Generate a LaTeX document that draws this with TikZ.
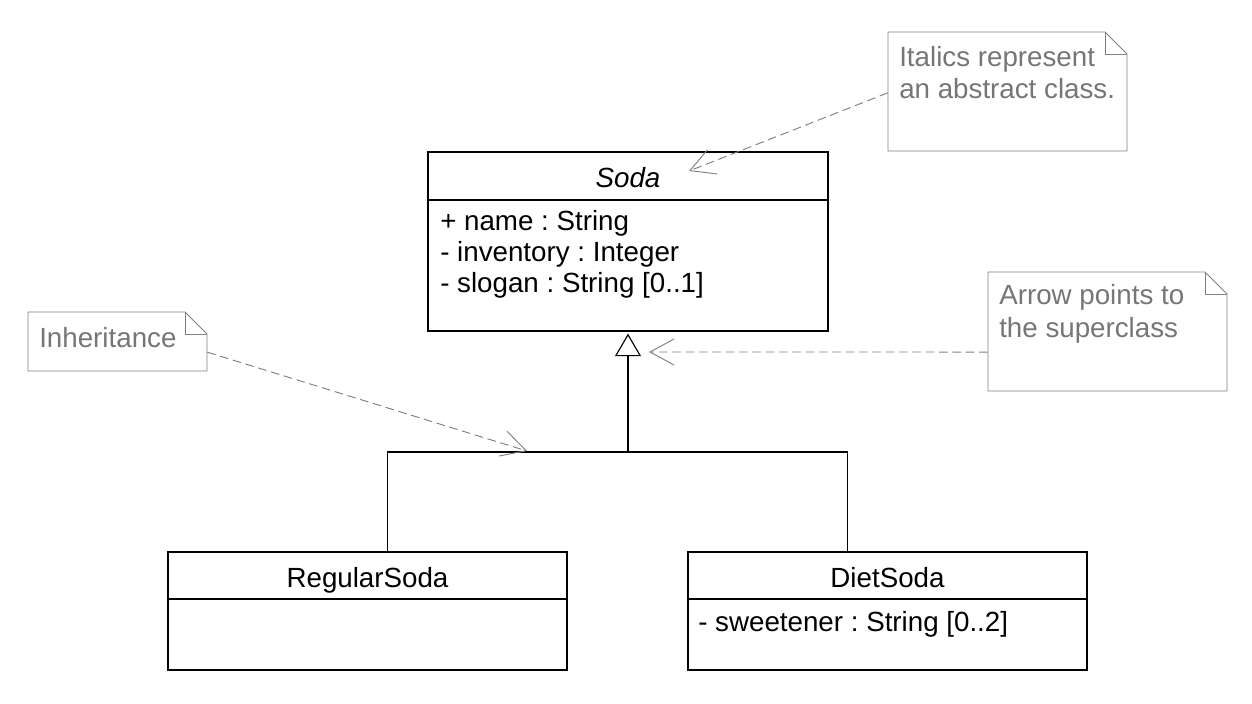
\documentclass[tikz,border=0pt]{standalone}
\usepackage{fontspec}
\setmainfont{Liberation Sans}
\usetikzlibrary{arrows.meta,fit,calc}
\definecolor{notegray}{RGB}{128,128,128}
\definecolor{notetext}{RGB}{118,118,118}
\frenchspacing
\begin{document}
\begin{tikzpicture}[x=0.75pt,y=-0.75pt,
  boxline/.style={draw=black,line width=0.85pt},
  classbox/.style={boxline,inner sep=0pt},
  txt/.style={font=\fontsize{20.8pt}{24pt}\selectfont,inner sep=0pt,anchor=base west},
  ntxt/.style={txt,text=notetext},
  notebox/.style={draw=notegray,line width=0.7pt},
  noteref/.style={draw=notegray,line width=0.7pt,dash pattern=on 6.5pt off 3.5pt,
     -{Straight Barb[length=18pt,width=19.5pt,line width=0.7pt]}},
  gen/.style={boxline,-{Triangle[open,length=17pt,width=19.5pt,line width=0.85pt]}},
  wire/.style={boxline}
]
\useasboundingbox (0,0) rectangle (1252,703);
\fill[white] (0,0) rectangle (1252,703);

% ---- Soda class ----
\node[classbox,fit={(428,152) (828,331)}] (soda) {};
\draw[boxline] (428,200) -- (828,200);
\node[txt,anchor=base,font=\fontsize{20.8pt}{24pt}\selectfont\itshape] (sodaname) at (628,187) {Soda};
\node[txt] (a1) at (440,230) {+ name : String};
\node[txt] (a2) at (440,261) {- inventory : Integer};
\node[txt] (a3) at (440,292) {- slogan : String [0..1]};

% ---- RegularSoda ----
\node[classbox,fit={(168,552) (567,670)}] (regular) {};
\draw[boxline] (168,599) -- (567,599);
\node[txt,anchor=base] (regname) at (367.5,587) {RegularSoda};

% ---- DietSoda ----
\node[classbox,fit={(688,552) (1087,670)}] (diet) {};
\draw[boxline] (688,599) -- (1087,599);
\node[txt,anchor=base] (dietname) at (887.5,587) {DietSoda};
\node[txt] (d1) at (698,631) {- sweetener : String [0..2]};

% ---- generalization ----
\coordinate (j) at (628,452);
\draw[wire] ([xshift=15pt]regular.north) |- (j);
\draw[wire] ([xshift=-30pt]diet.north) |- (j);
\draw[gen] (j) -- ([yshift=-1.5pt]soda.south);

% ---- notes ----
\node[fit={(888,32) (1127,151)},inner sep=0pt] (n1) {};
\draw[notebox] (888,32) -- (1105,32) -- (1127,54) -- (1127,151) -- (888,151) -- cycle;
\draw[notebox] (1105,32) -- (1105,54) -- (1127,54);
\node[ntxt] (n1a) at (899,66) {Italics represent};
\node[ntxt] (n1b) at (899,98) {an abstract class.};

\node[fit={(988,272) (1227,391)},inner sep=0pt] (n2) {};
\draw[notebox] (988,272) -- (1205,272) -- (1227,294) -- (1227,391) -- (988,391) -- cycle;
\draw[notebox] (1205,272) -- (1205,294) -- (1227,294);
\node[ntxt] (n2a) at (999,304) {Arrow points to};
\node[ntxt] (n2b) at (999,337) {the superclass};

\node[fit={(28,312) (207,371)},inner sep=0pt] (n3) {};
\draw[notebox] (28,312) -- (185,312) -- (207,334) -- (207,371) -- (28,371) -- cycle;
\draw[notebox] (185,312) -- (185,334) -- (207,334);
\node[ntxt] (n3a) at (39,347) {Inheritance};

% ---- note connectors ----
\coordinate (t1) at (689,171);
\coordinate (t2) at (649,352);
\coordinate (t3) at (527,451);
\draw[noteref] ([yshift=-1pt]n1.west) -- (t1);
\draw[noteref] ([yshift=-15.4pt]n2.west) -- (t2);
\draw[noteref] ([yshift=-8pt]n3.east) -- (t3);
\end{tikzpicture}
\end{document}
